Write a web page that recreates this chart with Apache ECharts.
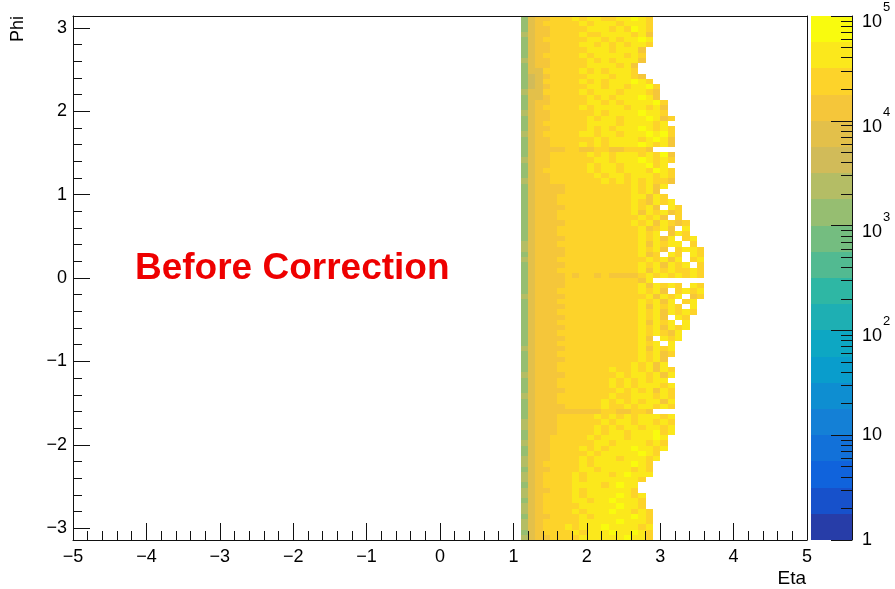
<!DOCTYPE html>
<html>
<head>
<meta charset="utf-8">
<script src="https://cdn.jsdelivr.net/npm/echarts@6/dist/echarts.min.js"></script>
<style>
  html, body { margin: 0; padding: 0; background: #fff; }
  #chart { width: 895px; height: 589px; }
</style>
</head>
<body>
<div id="chart"></div>
<script>
// ---- histogram binning ----
const etaFirstBin = 1.1;          // lower edge of the first filled eta bin
const etaBinWidth = 0.1;
const phiBinCount = 100;          // phi from -pi to pi
const phiBinWidth = 2 * Math.PI / phiBinCount;

// Typical entries for each colour level code used in the rows below
const levelCounts = {
  '2': 1300, '3': 2400, '4': 4200, '5': 7500,
  '6': 13000, '7': 24000, '8': 42000, '9': 72000
};

// One string per phi bin, from phi = +pi (top) down to phi = -pi.
// Each character is one eta bin starting at eta = 1.1; '.' = empty bin.
const phiRows = [
  "256677787887788987",
  "256777778788878887",
  "256677777888787987",
  "356677778778888786",
  "256777777887878898",
  "256677778878787887",
  "25667777788878886",
  "25677777878888787",
  "35667777787878886",
  "2566777778888786",
  "2557777787878887",
  "24567777788878876",
  "245777778787888987",
  "2456777778878878897",
  "3557777787888788876",
  "2556777778787888986",
  "25667777788787888897",
  "25677777878888788786",
  "35667777778788889887",
  "256677777878878889867",
  "25677777788887888878.",
  "256677777878788898787",
  "356777778878878889897",
  "256677777787888878986",
  "256677778787888898786",
  "256666776677667776",
  "256677777878788878796",
  "356677777788788898787",
  "25667777787887888978.",
  "256777777878878887987",
  "256677777787887888787",
  "356677777778787878776",
  "25666677777777787868",
  "2566667777777778786",
  "25666777777777788687",
  "256667777777777876878",
  "2566667777777778786.87",
  "2566677777777778687867",
  "25666777777777778786.7",
  "25666677777777787868767",
  "256667777777777786786.8",
  "2566677777777777878.687",
  "256666777777777787868.78",
  "3566677777777777868788.7",
  "35666677777777778786.7887",
  "2566667777777777867.87.87",
  "3566677777777777787868.78",
  "25666677777777778786878.7",
  "2566677777777777868787787",
  "2566667677676666787878787",
  "256666777777777768",
  "2566667777777777868787.87",
  "25666777777777778786.7878",
  "3566667777777777786878.67",
  "256667777777777787868.78",
  "2566667777777777868787.8",
  "256667777777777787868787",
  "25666677777777778786.87",
  "256667777777777786878.8",
  "25666677777777778786878",
  "2566677777777777878768",
  "256666777777777786.878",
  "2566677777777777878.8",
  "356666777777777786878",
  "256667777777777787867",
  "25666677777777778786",
  "25666777777777787868",
  "256667777777877878687",
  "356666777777787887868",
  "25666777777787878788.",
  "256667777777878788878",
  "256666777777787878687",
  "356667777777877888787",
  "256667777778787878868",
  "256666777778778788787",
  "256666666667766776",
  "256667777787878788878",
  "356667777778788788787",
  "356667777787878878878",
  "256667777787887888978",
  "25667777787888788898",
  "35667777778878888787",
  "25667777878788898878",
  "2566777778788888987",
  "3566777787888788878",
  "356777778788888987",
  "256677778878888787",
  "356777787888789888",
  "35677778788888887",
  "2567777888878988",
  "3566777878888887",
  "35677778788889878",
  "25677778878898887",
  "35677777888889887",
  "356777787888988787",
  "256677778788888987",
  "356777778888898887",
  "356777878889888878",
  "256777787888988987",
  "356677778888889887"
];

// Axis ticks
const etaTicks = [-5, -4, -3, -2, -1, 0, 1, 2, 3, 4, 5];
const phiTicks = [-3, -2, -1, 0, 1, 2, 3];
const zDecades = [0, 1, 2, 3, 4, 5];   // colour scale 10^0 .. 10^5
const contoursPerDecade = 4;

// ---- ROOT "bird" palette ----
const birdStops = [0, 0.125, 0.25, 0.375, 0.5, 0.625, 0.75, 0.875, 1];
const birdR = [0.2082, 0.0592, 0.0780, 0.0232, 0.1802, 0.5301, 0.8186, 0.9956, 0.9764];
const birdG = [0.1664, 0.3599, 0.5041, 0.6419, 0.7178, 0.7492, 0.7328, 0.7862, 0.9832];
const birdB = [0.5293, 0.8684, 0.8385, 0.7914, 0.6425, 0.4662, 0.3499, 0.1968, 0.0539];

function birdColor(t) {
  let g = 1;
  while (g < birdStops.length - 1 && t > birdStops[g]) g++;
  const f = (t - birdStops[g - 1]) / (birdStops[g] - birdStops[g - 1]);
  const ch = a => Math.round(255 * (a[g - 1] + (a[g] - a[g - 1]) * f));
  return 'rgb(' + ch(birdR) + ',' + ch(birdG) + ',' + ch(birdB) + ')';
}

const zMaxExp = zDecades[zDecades.length - 1];
const nContours = zMaxExp * contoursPerDecade;
const contourColors = [];
for (let i = 0; i < nContours; i++) {
  const idx = Math.floor((i + 0.99) * 255 / nContours);
  contourColors.push(birdColor(idx / 254));
}
function colorForCount(v) {
  let b = Math.floor(Math.log10(v) * contoursPerDecade);
  b = Math.max(0, Math.min(nContours - 1, b));
  return contourColors[b];
}

// ---- cells [etaLow, phiLow, entries] ----
const cells = [];
phiRows.forEach((row, r) => {
  const phiLow = Math.PI - (r + 1) * phiBinWidth;
  for (let c = 0; c < row.length; c++) {
    const code = row[c];
    if (code === '.') continue;
    cells.push([etaFirstBin + c * etaBinWidth, phiLow, levelCounts[code]]);
  }
});

// colour bar bands, in units of log10(entries)
const bands = contourColors.map((col, i) => [i / contoursPerDecade, (i + 1) / contoursPerDecade, i]);

const phiMinor = [];
for (let k = -15; k <= 15; k++) {
  const v = k / 5;
  if (k % 5 !== 0 && Math.abs(v) < Math.PI) phiMinor.push(v);
}
const zMinor = [];
for (let d = 0; d < zMaxExp; d++) {
  for (let m = 2; m <= 9; m++) zMinor.push(d + Math.log10(m));
}

const FONT = '"Liberation Sans", Arial, Helvetica, sans-serif';
const AXIS_COLOR = '#111';
const fmtMinus = v => String(v).replace('-', '\u2212');

const chart = echarts.init(document.getElementById('chart'), null, { renderer: 'canvas' });

chart.setOption({
  animation: false,
  backgroundColor: '#fff',
  grid: [
    { left: 73, top: 16, width: 734, height: 524, show: false },
    { left: 811, top: 16, width: 41, height: 524, show: false }
  ],
  xAxis: [
    {
      gridIndex: 0, type: 'value', min: -5, max: 5, interval: 1, z: 5,
      position: 'bottom',
      axisLine: { show: true, onZero: false, lineStyle: { color: AXIS_COLOR, width: 1 } },
      axisTick: { show: true, inside: true, length: 17, lineStyle: { color: AXIS_COLOR } },
      minorTick: { show: true, splitNumber: 5, length: 9, lineStyle: { color: AXIS_COLOR } },
      axisLabel: { margin: 8, fontSize: 18, color: '#000', fontFamily: FONT, formatter: fmtMinus },
      splitLine: { show: false }
    },
    {
      gridIndex: 0, type: 'value', min: -5, max: 5, z: 5, position: 'top',
      axisLine: { show: true, onZero: false, lineStyle: { color: AXIS_COLOR, width: 1 } },
      axisTick: { show: false }, axisLabel: { show: false }, splitLine: { show: false }
    },
    {
      gridIndex: 1, type: 'value', min: 0, max: 1, show: false
    }
  ],
  yAxis: [
    {
      gridIndex: 0, type: 'value', min: -Math.PI, max: Math.PI, z: 5, position: 'left',
      axisLine: { show: true, onZero: false, lineStyle: { color: AXIS_COLOR, width: 1 } },
      axisTick: { show: true, inside: true, length: 17, customValues: phiTicks, lineStyle: { color: AXIS_COLOR } },
      axisLabel: { margin: 6, fontSize: 18, color: '#000', fontFamily: FONT, customValues: phiTicks, formatter: fmtMinus },
      splitLine: { show: false }
    },
    {
      gridIndex: 0, type: 'value', min: -Math.PI, max: Math.PI, z: 5, position: 'left',
      axisLine: { show: false, onZero: false },
      axisTick: { show: true, inside: true, length: 9, customValues: phiMinor, lineStyle: { color: AXIS_COLOR } },
      axisLabel: { show: false }, splitLine: { show: false }
    },
    {
      gridIndex: 0, type: 'value', min: -Math.PI, max: Math.PI, z: 5, position: 'right',
      axisLine: { show: true, onZero: false, lineStyle: { color: AXIS_COLOR, width: 1 } },
      axisTick: { show: false }, axisLabel: { show: false }, splitLine: { show: false }
    },
    {
      gridIndex: 1, type: 'value', min: 0, max: zMaxExp, interval: 1, z: 5, position: 'right',
      axisLine: { show: true, onZero: false, lineStyle: { color: AXIS_COLOR, width: 1 } },
      axisTick: { show: true, inside: true, length: 21, lineStyle: { color: AXIS_COLOR } },
      axisLabel: {
        margin: 10, color: '#000', fontFamily: FONT, fontSize: 18,
        formatter: v => (v === 0 ? '1' : v === 1 ? '10' : '{b|10}{s|' + v + '}'),
        rich: {
          b: { fontSize: 18, fontFamily: FONT, color: '#000', lineHeight: 30, padding: [12, 0, 0, 0] },
          s: { fontSize: 13, fontFamily: FONT, color: '#000', lineHeight: 30, padding: [0, 0, 17, 1] }
        }
      },
      splitLine: { show: false }
    },
    {
      gridIndex: 1, type: 'value', min: 0, max: zMaxExp, z: 5, position: 'right',
      axisLine: { show: false, onZero: false },
      axisTick: { show: true, inside: true, length: 11, customValues: zMinor, lineStyle: { color: AXIS_COLOR } },
      axisLabel: { show: false }, splitLine: { show: false }
    }
  ],
  series: [
    {
      type: 'custom',
      xAxisIndex: 0, yAxisIndex: 0,
      data: cells,
      encode: { x: 0, y: 1 },
      renderItem: function (params, api) {
        const eta = api.value(0), phi = api.value(1), n = api.value(2);
        const a = api.coord([eta, phi + phiBinWidth]);
        const b = api.coord([eta + etaBinWidth, phi]);
        const x0 = Math.round(a[0]), y0 = Math.round(a[1]);
        const x1 = Math.round(b[0]), y1 = Math.round(b[1]);
        return {
          type: 'rect',
          shape: { x: x0, y: y0, width: x1 - x0, height: y1 - y0 },
          style: { fill: colorForCount(n) }
        };
      }
    },
    {
      type: 'custom',
      xAxisIndex: 2, yAxisIndex: 3,
      data: bands,
      encode: { y: [0, 1] },
      renderItem: function (params, api) {
        const lo = api.value(0), hi = api.value(1), i = api.value(2);
        const a = api.coord([0, hi]);
        const b = api.coord([1, lo]);
        const x0 = Math.round(a[0]), y0 = Math.round(a[1]);
        const x1 = Math.round(b[0]), y1 = Math.round(b[1]);
        return {
          type: 'rect',
          shape: { x: x0, y: y0, width: x1 - x0, height: y1 - y0 },
          style: { fill: contourColors[i] }
        };
      }
    }
  ],
  graphic: [
    {
      type: 'text', x: 18, y: 16, rotation: Math.PI / 2,
      style: { text: 'Phi', font: '18px ' + FONT, fill: '#000', align: 'right', verticalAlign: 'middle' }
    },
    {
      type: 'text', x: 806, y: 579,
      style: { text: 'Eta', font: '19px ' + FONT, fill: '#000', align: 'right', verticalAlign: 'middle' }
    },
    {
      type: 'text', x: 135, y: 269,
      style: { text: 'Before Correction', font: 'bold 37px ' + FONT, fill: '#ee0000', align: 'left', verticalAlign: 'middle' }
    }
  ]
});
</script>
</body>
</html>
